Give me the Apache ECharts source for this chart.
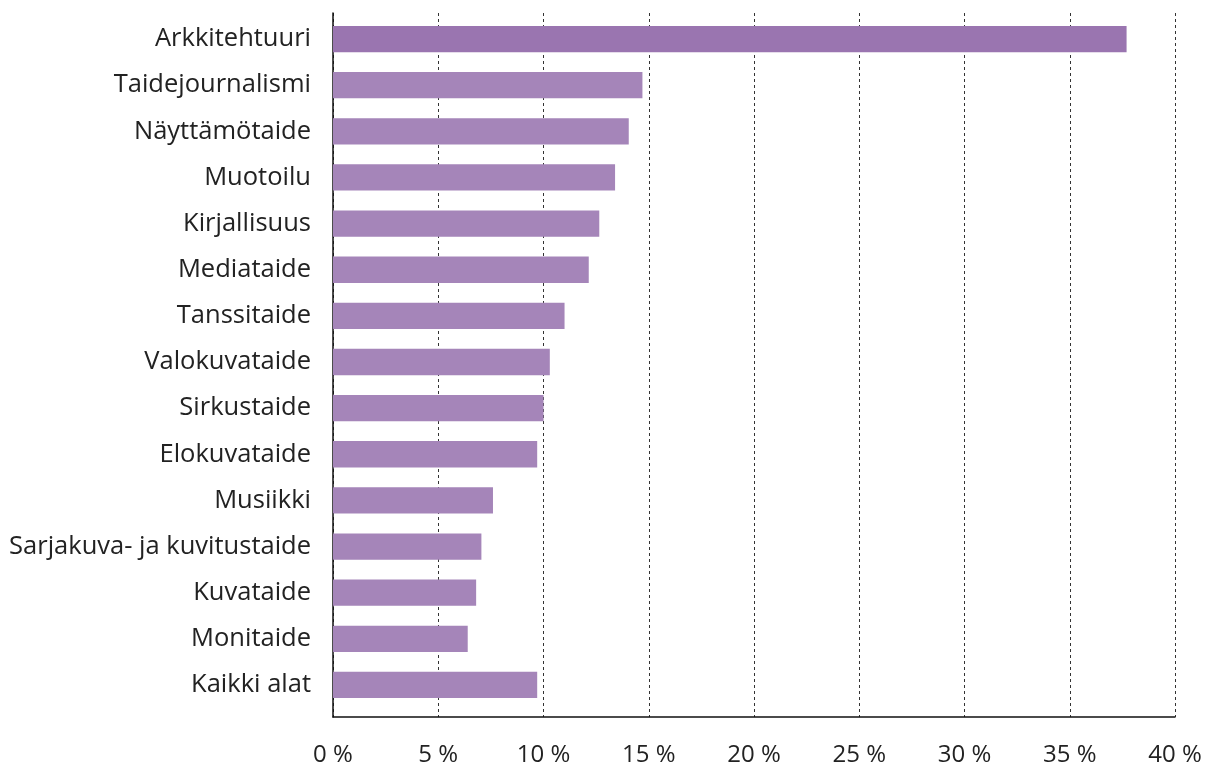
<!DOCTYPE html>
<html>
<head>
<meta charset="UTF-8">
<style>
	html, body { margin: 0; padding: 0; background: #fff; }
	#chart { width: 1208px; height: 767px; }
</style>
</head>
<body>
	<div id="chart"></div>
	<script src="https://cdn.jsdelivr.net/npm/echarts@6/dist/echarts.min.js"></script>
<script>
	var categories = ['Arkkitehtuuri', 'Taidejournalismi', 'Näyttämötaide', 'Muotoilu', 'Kirjallisuus',
		'Mediataide', 'Tanssitaide', 'Valokuvataide', 'Sirkustaide', 'Elokuvataide', 'Musiikki',
		'Sarjakuva- ja kuvitustaide', 'Kuvataide', 'Monitaide', 'Kaikki alat'];
	var values = [37.7, 14.7, 14.05, 13.4, 12.65, 12.15, 11.0, 10.3, 10.0, 9.7, 7.6, 7.05, 6.8, 6.4, 9.7];
	var highlight = 'Arkkitehtuuri';

	var font = '"Open Sans", "Noto Sans", sans-serif';
	var myChart = echarts.init(document.getElementById('chart'));
	myChart.setOption({
		animation: false,
		// grid 0 carries the frame, grid lines and % labels; grid 1 the bars
		grid: [
			{ left: 333, right: 33, top: 13, bottom: 49 },
			{ left: 333, right: 33, top: 16, bottom: 59 }
		],
		xAxis: [{
			type: 'value',
			gridIndex: 0,
			min: 0,
			max: 40,
			interval: 5,
			axisLine: { show: true, lineStyle: { color: '#111', width: 1.5 } },
			axisTick: { show: false },
			axisLabel: {
				margin: 26,
				fontFamily: font,
				fontSize: 24,
				color: '#222',
				formatter: function (v) { return v + ' %'; }
			},
			splitLine: {
				show: true,
				lineStyle: { color: '#333', type: [3, 3], width: 1 }
			}
		}, {
			type: 'value',
			gridIndex: 1,
			min: 0,
			max: 40,
			show: false
		}],
		yAxis: [{
			type: 'value',
			gridIndex: 0,
			axisLine: { show: true, lineStyle: { color: '#111', width: 1.5 } },
			axisTick: { show: false },
			axisLabel: { show: false },
			splitLine: { show: false }
		}, {
			type: 'category',
			gridIndex: 1,
			inverse: true,
			data: categories,
			axisLine: { show: false },
			axisTick: { show: false },
			axisLabel: {
				margin: 22,
				fontFamily: font,
				fontSize: 25.5,
				color: '#222'
			}
		}],
		series: [{
			type: 'bar',
			xAxisIndex: 1,
			yAxisIndex: 1,
			barCategoryGap: '43%',
			data: values.map(function (v, i) {
				return {
					value: v,
					itemStyle: { color: categories[i] === highlight ? '#9a75b0' : '#a585b9' }
				};
			})
		}]
	});
</script>
</body>
</html>
